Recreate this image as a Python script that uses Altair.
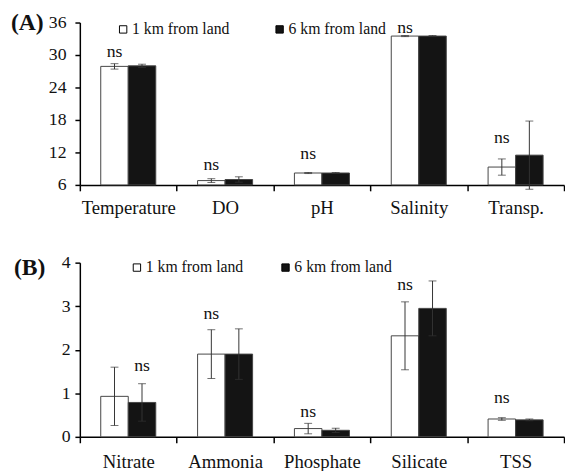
import altair as alt
import pandas as pd

FONT = "Liberation Serif"
series = ["1 km from land", "6 km from land"]

# Panel A
cats_a = ["Temperature", "DO", "pH", "Salinity", "Transp."]
a_1km = [27.9, 6.8, 8.2, 33.5, 9.3]
a_1km_err = [0.5, 0.35, 0.1, 0.1, 1.5]
a_6km = [28.0, 7.0, 8.2, 33.5, 11.5]
a_6km_err = [0.3, 0.5, 0.1, 0.1, 6.3]
a_ns_y = [29.7, 8.8, 10.8, 34.1, 13.8]
a_ns_over = ["1 km from land"] * 5
a_ticks = [6, 12, 18, 24, 30, 36]

# Panel B
cats_b = ["Nitrate", "Ammonia", "Phosphate", "Silicate", "TSS"]
b_1km = [0.93, 1.90, 0.19, 2.32, 0.41]
b_1km_err = [0.67, 0.56, 0.12, 0.78, 0.03]
b_6km = [0.79, 1.90, 0.15, 2.95, 0.39]
b_6km_err = [0.43, 0.58, 0.05, 0.63, 0.02]
b_ns_y = [1.52, 2.70, 0.45, 3.37, 0.78]
b_ns_over = ["6 km from land", "1 km from land", "1 km from land", "1 km from land", "1 km from land"]
b_ticks = [0, 1, 2, 3, 4]


def panel(cats, v1, e1, v2, e2, ns_y, ns_over, ydom, yticks, tag,
          tag_x, tag_y, leg_x, leg_y, col_pad, ylab_pad, xlab_pad, width, height):
    rows = []
    for c, a, ea, b, eb in zip(cats, v1, e1, v2, e2):
        rows.append({"cat": c, "series": series[0], "value": a, "lo": a - ea, "hi": a + ea})
        rows.append({"cat": c, "series": series[1], "value": b, "lo": b - eb, "hi": b + eb})
    df = pd.DataFrame(rows)
    ns_df = pd.DataFrame({"cat": cats, "series": ns_over, "y": ns_y, "lbl": ["ns"] * len(cats)})
    tag_df = pd.DataFrame({"t": [tag]})

    x = alt.X("cat:N", sort=cats, title=None,
              scale=alt.Scale(paddingInner=0, paddingOuter=0),
              axis=alt.Axis(labelAngle=0, tickBand="extent", tickSize=6, labelFontSize=19,
                            labelPadding=xlab_pad, labelOverlap=False))
    xo = alt.XOffset("series:N", sort=series,
                     scale=alt.Scale(domain=series, paddingOuter=0.76, paddingInner=0))
    yscale = alt.Scale(domain=ydom, nice=False, zero=False)
    yaxis = alt.Axis(values=yticks, tickSize=5, labelPadding=ylab_pad, grid=False,
                     labelOverlap=False, labelFlush=False)

    bars = alt.Chart(df).mark_bar(stroke="#444", strokeWidth=1).encode(
        x=x, xOffset=xo,
        y=alt.Y("value:Q", title=None, scale=yscale, axis=yaxis),
        y2=alt.datum(ydom[0]),
        fill=alt.Fill("series:N", sort=series,
                      scale=alt.Scale(domain=series, range=["white", "#141414"]),
                      legend=alt.Legend(title=None, orient="none", legendX=leg_x, legendY=leg_y,
                                        direction="horizontal", symbolType="square",
                                        symbolSize=56, symbolStrokeColor="black",
                                        symbolStrokeWidth=1, labelFontSize=16, labelFont=FONT,
                                        labelColor="#111", labelOffset=1, columnPadding=col_pad,
                                        padding=0)),
    )
    rule = alt.Chart(df).mark_rule(color="#333", strokeWidth=1).encode(
        x=x, xOffset=xo, y=alt.Y("lo:Q", title=None, scale=yscale, axis=yaxis), y2="hi:Q")
    cap_hi = alt.Chart(df).mark_tick(color="#333", size=8, thickness=1).encode(
        x=x, xOffset=xo, y=alt.Y("hi:Q", title=None, scale=yscale, axis=yaxis))
    cap_lo = alt.Chart(df).mark_tick(color="#333", size=8, thickness=1).encode(
        x=x, xOffset=xo, y=alt.Y("lo:Q", title=None, scale=yscale, axis=yaxis))
    ns = alt.Chart(ns_df).mark_text(font=FONT, fontSize=18, baseline="alphabetic",
                                    color="#111").encode(
        x=x, xOffset=alt.XOffset("series:N", sort=series, scale=alt.Scale(domain=series)),
        y=alt.Y("y:Q", title=None, scale=yscale, axis=yaxis), text="lbl:N")
    tagm = alt.Chart(tag_df).mark_text(font=FONT, fontSize=24, fontWeight="bold",
                                       align="left", baseline="alphabetic",
                                       color="#111").encode(
        x=alt.value(tag_x), y=alt.value(tag_y), text="t:N")
    return alt.layer(bars, rule, cap_hi, cap_lo, ns, tagm).properties(
        width=width, height=height)


pa = panel(cats_a, a_1km, a_1km_err, a_6km, a_6km_err, a_ns_y, a_ns_over,
           [6, 36], a_ticks, "(A)", -70, 8, 36, -1, 42, 9, 8, 492, 165)
pb = panel(cats_b, b_1km, b_1km_err, b_6km, b_6km_err, b_ns_y, b_ns_over,
           [0, 4], b_ticks, "(B)", -67, 13, 50, -3, 34, 5, 10, 492, 177)

chart = alt.vconcat(pa, pb, spacing=37).resolve_scale(
    fill="independent", x="independent", y="independent", xOffset="independent"
).resolve_legend(fill="independent").properties(
    padding={"left": 3, "top": 0, "right": 0, "bottom": 0},
    background="white",
).configure(font=FONT).configure_view(stroke=None).configure_axis(
    labelFont=FONT, labelFontSize=18, labelColor="#111", labelOverlap=False,
    domainColor="black", tickColor="black", domainWidth=1.5, tickWidth=1.5,
    grid=False,
).configure_legend(labelFont=FONT)

chart.save("out.html", embed_options={"renderer": "svg", "actions": False})
